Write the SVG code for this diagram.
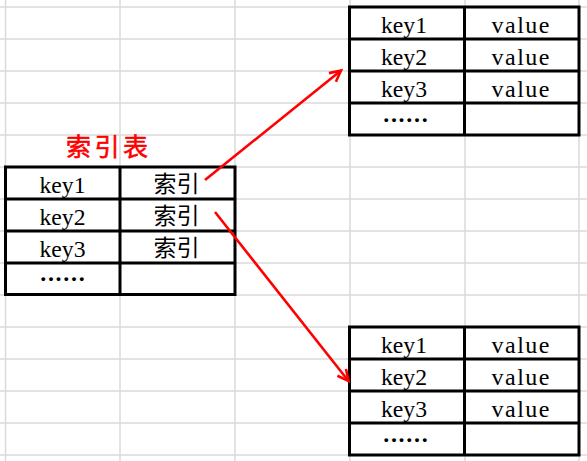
<svg xmlns="http://www.w3.org/2000/svg" width="587" height="461" viewBox="0 0 587 461">
<style>
.grid{stroke:#dadada;stroke-width:1.5;fill:none}
.tb{stroke:#000;stroke-width:3;fill:#fff}
.tl{stroke:#000;stroke-width:3;fill:none}
.t{font-family:"Liberation Serif","Times New Roman",serif;font-size:24px;fill:#000}
.d{font-family:"Liberation Serif","Times New Roman",serif;font-size:24px;font-weight:bold;fill:#000}
.c{font-family:"Noto Sans CJK SC","Noto Sans",sans-serif;font-size:23px;fill:#000;text-anchor:middle}
.title{font-family:"Noto Sans CJK SC","Noto Sans",sans-serif;font-size:25px;fill:#ff0000;stroke:#ff0000;stroke-width:0.6px;letter-spacing:3.5px}
.arrow{stroke:#ff0000;stroke-width:2.6;fill:none;marker-end:url(#ah)}
</style>
<defs>
<marker id="ah" markerUnits="userSpaceOnUse" viewBox="-14 -8 16 16" refX="0" refY="0" markerWidth="16" markerHeight="16" orient="auto">
<path d="M-11,-5.5 L0,0 L-11,5.5" stroke="#ff0000" stroke-width="2.6" fill="none" stroke-linejoin="miter"/>
</marker>
</defs>
<rect x="0" y="0" width="587" height="461" fill="#fff"/>
<g id="grid" class="grid">
<path d="M5.5,0V461M120,0V461M235,0V461M350,0V461M465,0V461M579,0V461"/>
<path d="M0,7H587M0,39H587M0,71H587M0,103H587M0,135H587M0,167H587M0,199H587M0,231H587M0,263H587M0,295H587M0,327H587M0,359H587M0,391H587M0,423H587M0,455H587"/>
</g>
<g id="title">
<text class="title" x="66" y="156">索引表</text>
</g>
<g id="index-table">
<rect class="tb" x="5.5" y="167" width="229.5" height="127.5"/>
<path class="tl" d="M5.5,199H235M5.5,231H235M5.5,263H235M120,167V294.5"/>
<text class="t" x="39.5" y="192.5" textLength="46" lengthAdjust="spacingAndGlyphs">key1</text>
<text class="t" x="39.5" y="224.5" textLength="46" lengthAdjust="spacingAndGlyphs">key2</text>
<text class="t" x="39.5" y="256.5" textLength="46" lengthAdjust="spacingAndGlyphs">key3</text>
<text class="d" x="40.2 47.9 55.6 63.3 71.0 78.7" y="281">......</text>
<text class="c" x="176.5" y="192">索引</text>
<text class="c" x="176.5" y="224">索引</text>
<text class="c" x="176.5" y="256">索引</text>
</g>
<g id="data-table-1">
<rect class="tb" x="349.5" y="7" width="229.5" height="128"/>
<path class="tl" d="M349.5,39H579M349.5,71H579M349.5,103H579M464.5,7V135"/>
<text class="t" x="381" y="32.5" textLength="46" lengthAdjust="spacingAndGlyphs">key1</text>
<text class="t" x="381" y="64.5" textLength="46" lengthAdjust="spacingAndGlyphs">key2</text>
<text class="t" x="381" y="96.5" textLength="46" lengthAdjust="spacingAndGlyphs">key3</text>
<text class="d" x="383.2 390.9 398.6 406.3 414.0 421.7" y="121.5">......</text>
<text class="t" x="491.5" y="32.5" textLength="58" lengthAdjust="spacing">value</text>
<text class="t" x="491.5" y="64.5" textLength="58" lengthAdjust="spacing">value</text>
<text class="t" x="491.5" y="96.5" textLength="58" lengthAdjust="spacing">value</text>
</g>
<g id="data-table-2">
<rect class="tb" x="349.5" y="327" width="229.5" height="128"/>
<path class="tl" d="M349.5,359H579M349.5,391H579M349.5,423H579M464.5,327V455"/>
<text class="t" x="381" y="352.5" textLength="46" lengthAdjust="spacingAndGlyphs">key1</text>
<text class="t" x="381" y="384.5" textLength="46" lengthAdjust="spacingAndGlyphs">key2</text>
<text class="t" x="381" y="416.5" textLength="46" lengthAdjust="spacingAndGlyphs">key3</text>
<text class="d" x="383.2 390.9 398.6 406.3 414.0 421.7" y="441.5">......</text>
<text class="t" x="491.5" y="352.5" textLength="58" lengthAdjust="spacing">value</text>
<text class="t" x="491.5" y="384.5" textLength="58" lengthAdjust="spacing">value</text>
<text class="t" x="491.5" y="416.5" textLength="58" lengthAdjust="spacing">value</text>
</g>
<g id="connectors">
<path class="arrow" d="M205,180 L341,70.5"/>
<path class="arrow" d="M215,212 L348.5,381"/>
</g>
</svg>
